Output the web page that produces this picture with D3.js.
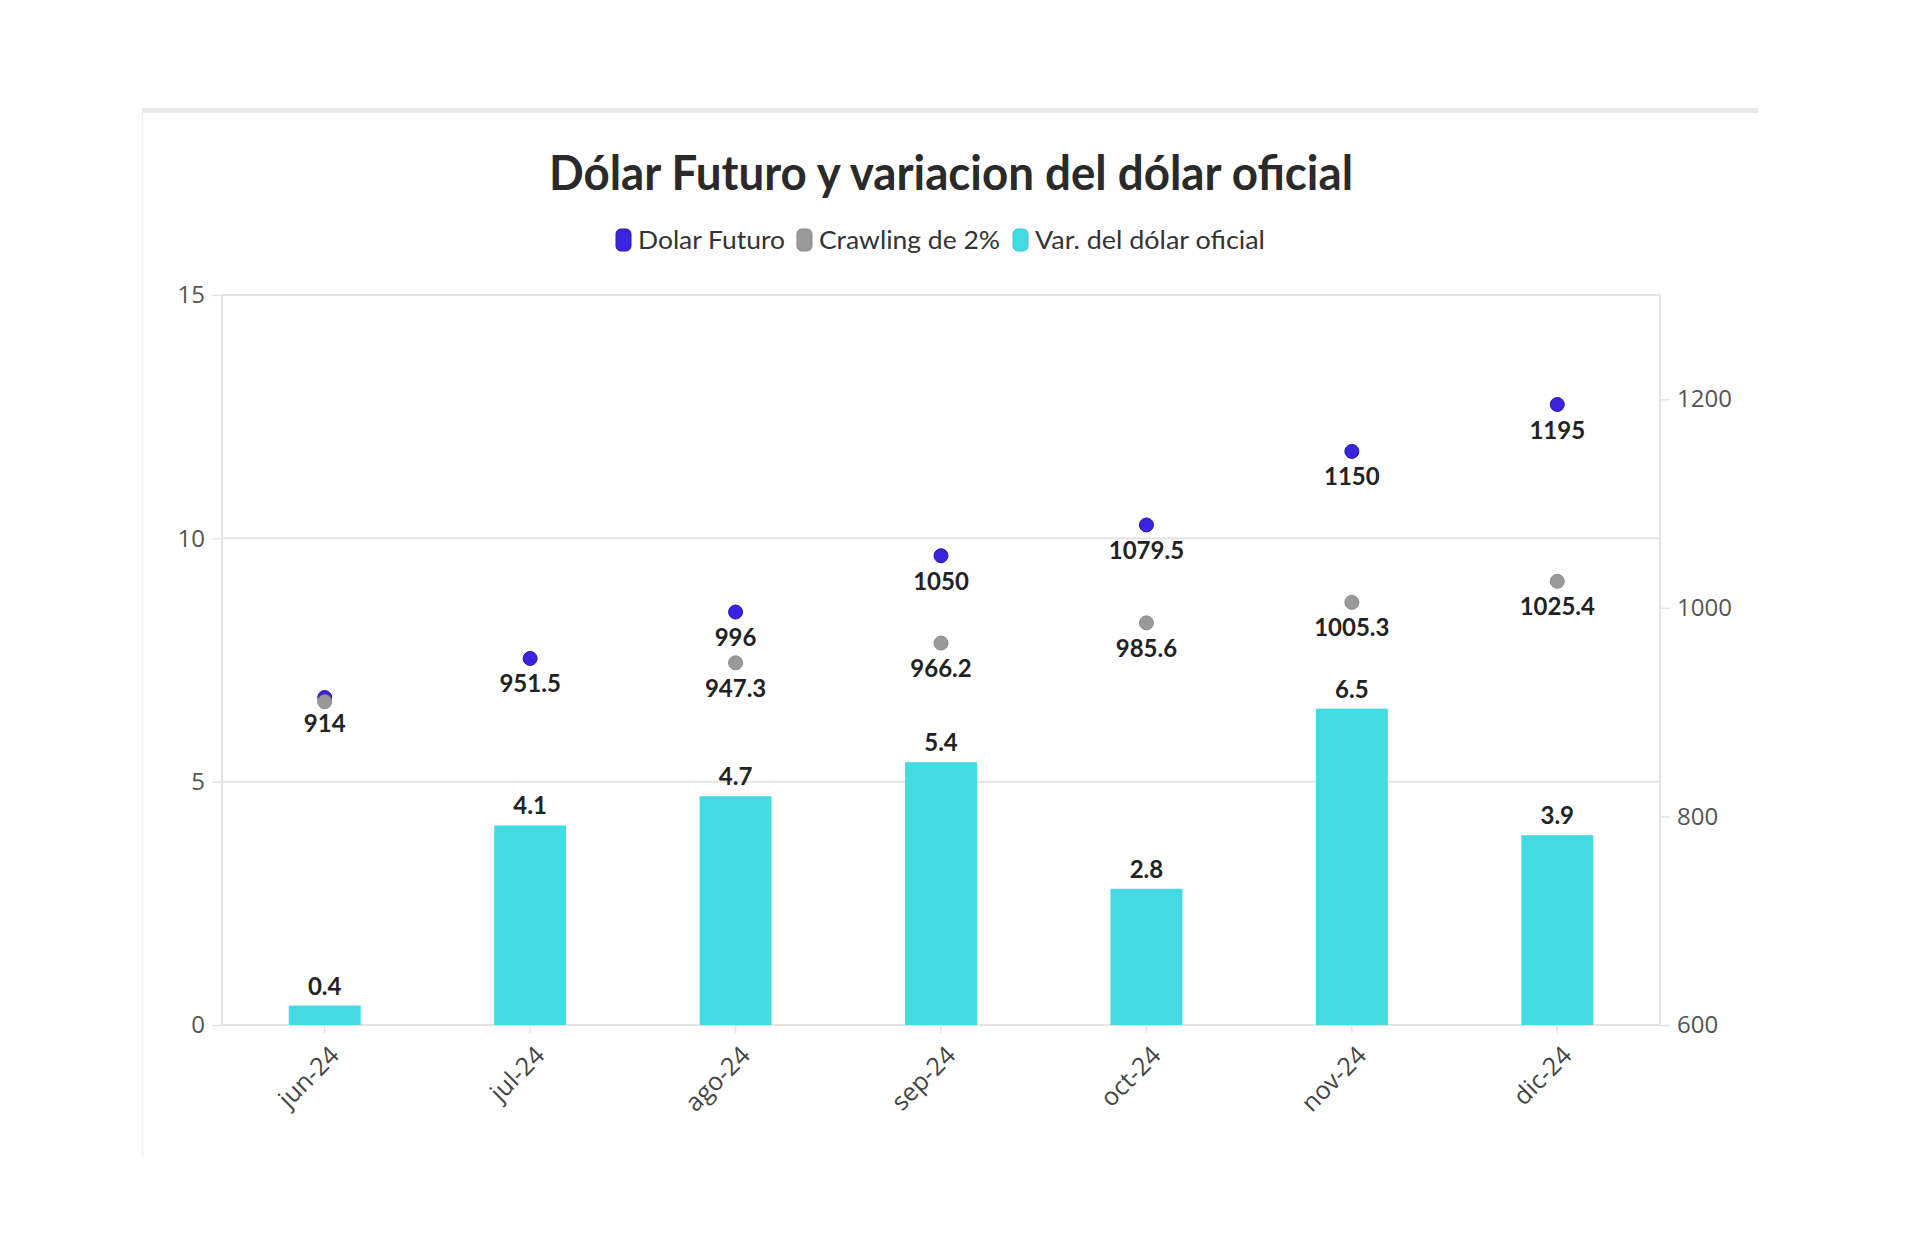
<!DOCTYPE html>
<html>
<head>
<meta charset="utf-8">
<script src="https://cdn.jsdelivr.net/npm/d3@7"></script>
<style>
html,body{margin:0;padding:0;background:#fff;}
svg{display:block;}
</style>
</head>
<body>
<svg id="chart" width="1920" height="1244"></svg>
<script>
const categories = ["jun-24","jul-24","ago-24","sep-24","oct-24","nov-24","dic-24"];
const dolarFuturo = [914, 951.5, 996, 1050, 1079.5, 1150, 1195];
const crawling = [910, null, 947.3, 966.2, 985.6, 1005.3, 1025.4];
const varOficial = [0.4, 4.1, 4.7, 5.4, 2.8, 6.5, 3.9];
const leftTicks = [0, 5, 10, 15];
const rightTicks = [600, 800, 1000, 1200];
const seriesNames = ["Dolar Futuro", "Crawling de 2%", "Var. del dólar oficial"];
const seriesColors = ["#3a24e0", "#999999", "#44dae3"];

const svg = d3.select("#chart");
const plot = {left: 222, right: 1660, top: 295, bottom: 1025};

// card
svg.append("rect").attr("x",142).attr("y",108).attr("width",1616).attr("height",5).attr("fill","#e9e9e9");
svg.append("line").attr("x1",142.5).attr("x2",142.5).attr("y1",113).attr("y2",1157).attr("stroke","#f0f0f0").attr("stroke-width",1.5);

// title
svg.append("text").attr("x",951).attr("y",190).attr("text-anchor","middle")
  .attr("font-family","Lato, 'Open Sans', sans-serif").attr("font-weight","bold").attr("font-size",48)
  .attr("fill","#2a2a2a").attr("textLength",804).attr("lengthAdjust","spacingAndGlyphs")
  .text("Dólar Futuro y variacion del dólar oficial");

// legend
const legendItems = [
  {m:616, t:638, w:147},
  {m:797, t:819, w:181},
  {m:1013, t:1035, w:230}
];
legendItems.forEach((it,i)=>{
  svg.append("rect").attr("x",it.m).attr("y",229).attr("width",15).attr("height",22).attr("rx",5)
    .attr("fill",seriesColors[i]).attr("stroke", i===0?"#2a1aa0":(i===1?"#888":"#3cc7cf")).attr("stroke-width",1);
  svg.append("text").attr("x",it.t).attr("y",249)
    .attr("font-family","Lato, 'Open Sans', sans-serif").attr("font-size",25).attr("fill","#333")
    .attr("textLength",it.w).attr("lengthAdjust","spacingAndGlyphs").text(seriesNames[i]);
});

const x = d3.scaleBand().domain(categories).range([plot.left, plot.right]).padding(0);
const y = d3.scaleLinear().domain([0,15]).range([plot.bottom, plot.top]);
const y2 = d3.scaleLinear().domain([600,1300]).range([plot.bottom, plot.top]);

// gridlines
svg.append("g").selectAll("line").data(leftTicks).join("line")
  .attr("x1",plot.left).attr("x2",plot.right)
  .attr("y1",d=>y(d)).attr("y2",d=>y(d))
  .attr("stroke","#e4e4e4").attr("stroke-width",2);

// axis lines
svg.append("line").attr("x1",plot.left).attr("x2",plot.left).attr("y1",plot.top).attr("y2",plot.bottom)
  .attr("stroke","#e4e4e4").attr("stroke-width",2);
svg.append("line").attr("x1",plot.right).attr("x2",plot.right).attr("y1",plot.top).attr("y2",plot.bottom)
  .attr("stroke","#e4e4e4").attr("stroke-width",2);

// left axis
const leftAxis = d3.axisLeft(y).tickValues(leftTicks).tickSize(10).tickPadding(7).tickFormat(d3.format("d"));
const gL = svg.append("g").attr("transform",`translate(${plot.left},0)`).call(leftAxis);
gL.select(".domain").remove();
gL.selectAll(".tick line").attr("stroke","#e4e4e4").attr("stroke-width",1.5);
gL.selectAll(".tick text").attr("font-family","'Open Sans', sans-serif").attr("font-size",24).attr("fill","#555");

// right axis
const rightAxis = d3.axisRight(y2).tickValues(rightTicks).tickSize(10).tickPadding(7).tickFormat(d3.format("d"));
const gR = svg.append("g").attr("transform",`translate(${plot.right},0)`).call(rightAxis);
gR.select(".domain").remove();
gR.selectAll(".tick line").attr("stroke","#e4e4e4").attr("stroke-width",1.5);
gR.selectAll(".tick text").attr("font-family","'Open Sans', sans-serif").attr("font-size",24).attr("fill","#555");

// x axis
const xAxis = d3.axisBottom(x).tickSize(8).tickPadding(4);
const gX = svg.append("g").attr("transform",`translate(0,${plot.bottom})`).call(xAxis);
gX.select(".domain").remove();
gX.selectAll(".tick line").attr("stroke","#e4e4e4").attr("stroke-width",1.5);
gX.selectAll(".tick text")
  .attr("font-family","'Open Sans', sans-serif").attr("font-size",25).attr("fill","#444")
  .attr("text-anchor","end").attr("dy",null).attr("y",null)
  .attr("transform","translate(16,32) rotate(-45)");

// bars
const bw = x.bandwidth()*0.35;
svg.append("g").selectAll("rect").data(varOficial).join("rect")
  .attr("x",(d,i)=>x(categories[i]) + x.bandwidth()/2 - bw/2)
  .attr("width",bw)
  .attr("y",d=>y(d)).attr("height",d=>y(0)-y(d))
  .attr("fill",seriesColors[2]);

const labelFont = "Lato, 'Open Sans', sans-serif";
svg.append("g").selectAll("text").data(varOficial).join("text")
  .attr("x",(d,i)=>x(categories[i]) + x.bandwidth()/2)
  .attr("y",d=>y(d)-11)
  .attr("text-anchor","middle").attr("font-family",labelFont).attr("font-weight","bold")
  .attr("font-size",24).attr("fill","#222").text(d=>d);

// dots
const cx = i => x(categories[i]) + x.bandwidth()/2;
svg.append("g").selectAll("circle").data(dolarFuturo).join("circle")
  .attr("cx",(d,i)=>cx(i)).attr("cy",d=>y2(d)).attr("r",7)
  .attr("fill",seriesColors[0]).attr("stroke","#2a1aa0").attr("stroke-width",1);
const crawlData = crawling.map((v,i)=>({v,i})).filter(d=>d.v!=null);
svg.append("g").selectAll("circle").data(crawlData).join("circle")
  .attr("cx",d=>cx(d.i)).attr("cy",d=>y2(d.v)).attr("r",7)
  .attr("fill",seriesColors[1]).attr("stroke","#8a8a8a").attr("stroke-width",1);

// dot labels
svg.append("g").selectAll("text").data(dolarFuturo).join("text")
  .attr("x",(d,i)=>cx(i)).attr("y",d=>y2(d)+34)
  .attr("text-anchor","middle").attr("font-family",labelFont).attr("font-weight","bold")
  .attr("font-size",24).attr("fill","#222").text(d=>d);
// crawling labels (hidden when overlapping the Dolar Futuro label)
svg.append("g").selectAll("text")
  .data(crawlData.filter(d=>Math.abs(y2(d.v)-y2(dolarFuturo[d.i]))>25)).join("text")
  .attr("x",d=>cx(d.i)).attr("y",d=>y2(d.v)+34)
  .attr("text-anchor","middle").attr("font-family",labelFont).attr("font-weight","bold")
  .attr("font-size",24).attr("fill","#222").text(d=>d.v);
</script>
</body>
</html>
